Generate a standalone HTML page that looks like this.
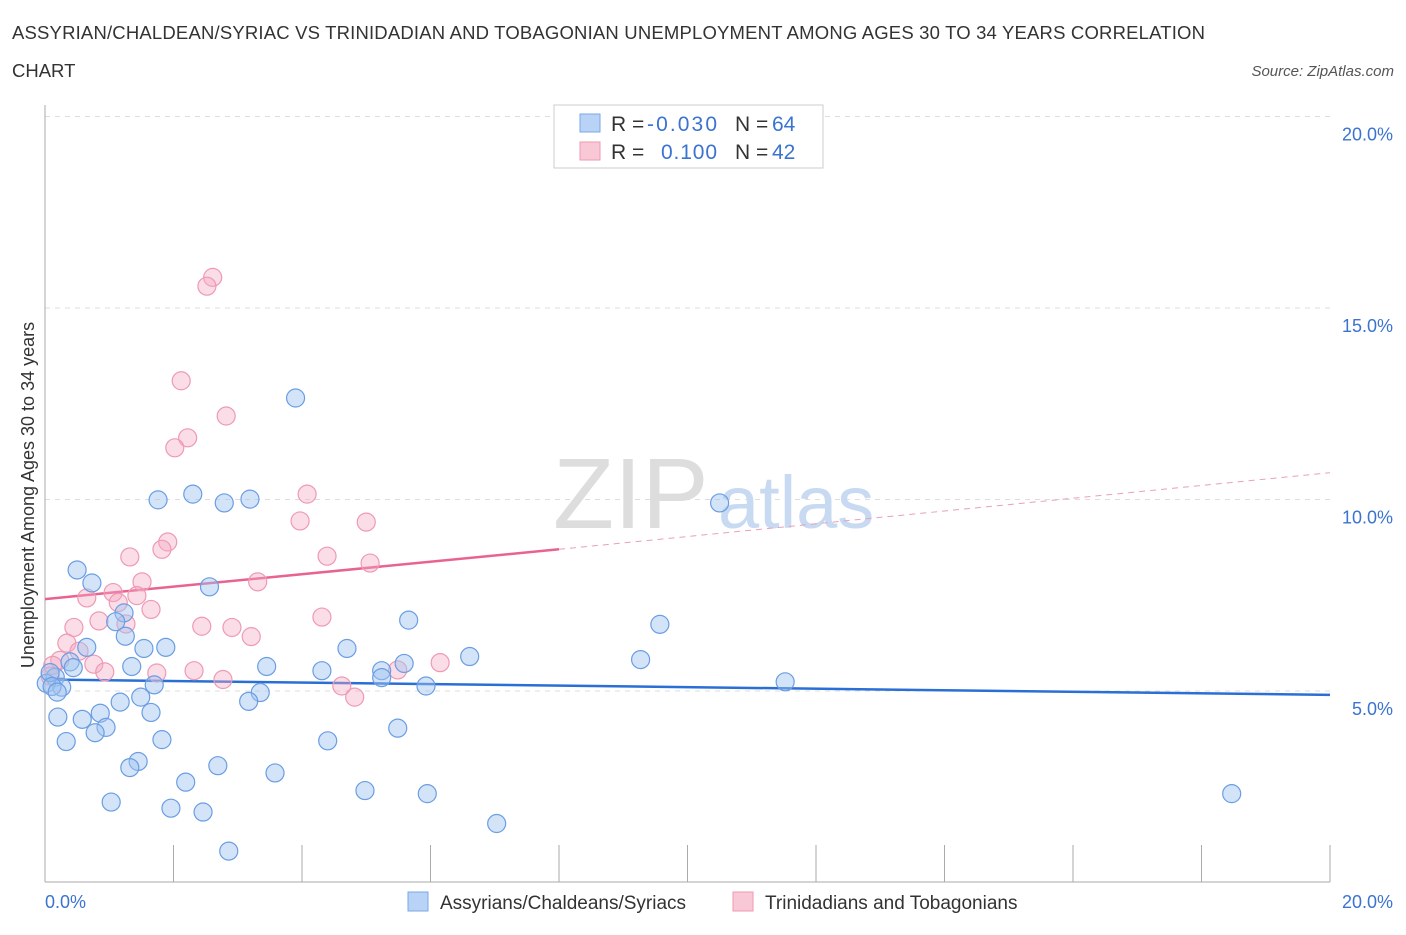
<!DOCTYPE html>
<html><head><meta charset="utf-8"><style>
body{margin:0;background:#fff;font-family:"Liberation Sans",sans-serif}
svg text{font-family:"Liberation Sans",sans-serif}
</style></head><body>
<svg width="1406" height="930" xmlns="http://www.w3.org/2000/svg">
<text x="12" y="39" font-size="18.5" fill="#333" textLength="1193">ASSYRIAN/CHALDEAN/SYRIAC VS TRINIDADIAN AND TOBAGONIAN UNEMPLOYMENT AMONG AGES 30 TO 34 YEARS CORRELATION</text>
<text x="12" y="77" font-size="18.5" fill="#333">CHART</text>
<text x="1394" y="76" font-size="15" fill="#555" font-style="italic" text-anchor="end">Source: ZipAtlas.com</text>
<g id="grid"></g>
<text x="553" y="528" font-size="100" fill="#ddd" font-family="Liberation Serif">ZIP</text>
<text x="718" y="528" font-size="74" fill="#c8daf2">atlas</text>
<g id="lines"></g>
<g id="pts"></g>
<g>
<rect x="554" y="105" width="269" height="63" fill="#fff" stroke="#ccc"/>
<rect x="580" y="114" width="20" height="18" fill="#b8d3f5" stroke="#7aa8e6"/>
<rect x="580" y="142" width="20" height="18" fill="#f9c8d6" stroke="#ee9ab3"/>
<text x="611" y="131" font-size="21" fill="#333">R = </text><text x="647" y="131" font-size="21" fill="#3a73d0" textLength="70">-0.030</text>
<text x="735" y="131" font-size="21" fill="#333">N = </text><text x="772" y="131" font-size="21" fill="#3a73d0">64</text>
<text x="611" y="159" font-size="21" fill="#333">R = </text><text x="661" y="159" font-size="21" fill="#3a73d0" textLength="56">0.100</text>
<text x="735" y="159" font-size="21" fill="#333">N = </text><text x="772" y="159" font-size="21" fill="#3a73d0">42</text>
</g>
<text x="34" y="495" font-size="18" fill="#333" text-anchor="middle" transform="rotate(-90 34 495)">Unemployment Among Ages 30 to 34 years</text>
<text x="45" y="908" font-size="18" fill="#3a73d0">0.0%</text>
<text x="1393" y="908" font-size="18" fill="#3a73d0" text-anchor="end">20.0%</text>
<g>
<rect x="408" y="892" width="20" height="19" fill="#b8d3f5" stroke="#7aa8e6"/>
<text x="440" y="909" font-size="19" fill="#333">Assyrians/Chaldeans/Syriacs</text>
<rect x="733" y="892" width="20" height="19" fill="#f9c8d6" stroke="#ee9ab3"/>
<text x="765" y="909" font-size="19" fill="#333">Trinidadians and Tobagonians</text>
</g>
</svg>
<script>
const yTicks=[5,10,15,20];
const yTickLabels=["5.0%","10.0%","15.0%","20.0%"];
const blueX=[3.9,2.3,1.76,2.79,3.19,10.5,0.5,0.73,2.56,1.23,1.1,5.66,1.25,9.57,0.65,1.54,1.88,4.7,6.61,9.27,0.39,0.44,1.35,3.45,4.31,5.24,5.59,5.24,0.16,0.26,0.02,1.7,5.93,11.52,3.35,1.49,1.17,3.17,1.65,0.2,0.86,0.58,0.95,5.49,0.78,0.33,1.82,4.4,1.45,1.32,2.69,3.58,2.19,1.03,1.96,2.46,4.98,5.95,7.03,2.86,18.47,0.08,0.11,0.19];
const blueY=[12.65,10.14,9.99,9.91,10.01,9.91,8.16,7.82,7.72,7.04,6.81,6.85,6.43,6.74,6.14,6.11,6.14,6.11,5.9,5.82,5.76,5.61,5.64,5.64,5.53,5.53,5.72,5.35,5.36,5.1,5.2,5.16,5.13,5.24,4.96,4.84,4.71,4.73,4.44,4.32,4.42,4.26,4.05,4.03,3.91,3.68,3.73,3.7,3.16,3.0,3.05,2.86,2.62,2.1,1.94,1.84,2.4,2.32,1.54,0.82,2.32,5.48,5.12,4.97];
const pinkX=[2.61,2.52,2.12,2.82,2.22,2.02,4.08,3.97,5.0,1.91,1.82,1.32,4.39,5.06,1.51,3.31,0.65,1.06,1.43,1.14,1.65,4.31,0.84,1.26,2.44,2.91,3.21,0.34,0.45,0.53,0.76,0.93,1.74,2.32,2.77,0.23,0.12,0.08,4.62,4.82,5.49,6.15];
const pinkY=[15.8,15.57,13.1,12.18,11.61,11.35,10.14,9.44,9.41,8.89,8.7,8.5,8.52,8.34,7.85,7.85,7.43,7.57,7.49,7.31,7.13,6.93,6.83,6.75,6.69,6.66,6.42,6.25,6.66,6.04,5.7,5.5,5.47,5.53,5.3,5.8,5.67,5.39,5.13,4.84,5.55,5.74];
const blueFit=[5.3,4.9];
const pinkFit=[7.4,8.7,10.7];
const X=v=>45+v/20*1285, Y=v=>882.5-v*38.3;
const ns="http://www.w3.org/2000/svg";
function mk(t,a,p){const e=document.createElementNS(ns,t);for(const k in a)e.setAttribute(k,a[k]);p.appendChild(e);return e;}
const g=document.getElementById('grid');
yTicks.forEach((t,i)=>{
 const l=mk('line',{x1:45,x2:1330,y1:Y(t),y2:Y(t),stroke:'#ddd','stroke-dasharray':'5,5'},g);
 
 
 const tx=mk('text',{x:1393,y:Y(t)+24,'font-size':18,fill:'#3a73d0','text-anchor':'end'},g);
 tx.textContent=yTickLabels[i];
 
 
});
const ax=mk('line',{x1:45,x2:45,y1:105,y2:882,stroke:'#aaa'},g);


const bx=mk('line',{x1:45,x2:1330,y1:882,y2:882,stroke:'#aaa'},g);


for(let i=0;i<=10;i++){const tk=mk('line',{x1:X(i*2),x2:X(i*2),y1:845,y2:882,stroke:'#aaa'},g);
 
 }
const L=document.getElementById('lines');
const bl=mk('line',{x1:X(0),y1:Y(blueFit[0]),x2:X(20),y2:Y(blueFit[1]),stroke:'#2a6fd6','stroke-width':2.5},L);


const pl=mk('line',{x1:X(0),y1:Y(pinkFit[0]),x2:X(8),y2:Y(pinkFit[1]),stroke:'#e8638f','stroke-width':2.5},L);


const pd=mk('line',{x1:X(8),y1:Y(pinkFit[1]),x2:X(20),y2:Y(pinkFit[2]),stroke:'#e8a0b8','stroke-width':1,'stroke-dasharray':'6,5'},L);


const P=document.getElementById('pts');
pinkX.forEach((x,i)=>{const c=mk('circle',{cx:X(x),cy:Y(pinkY[i]),r:9,fill:'rgba(246,170,195,0.4)',stroke:'#ee9ab3','stroke-width':1.2},P);
 
 });
blueX.forEach((x,i)=>{const c=mk('circle',{cx:X(x),cy:Y(blueY[i]),r:9,fill:'rgba(160,195,240,0.45)',stroke:'#6a9de3','stroke-width':1.2},P);
 
 });
</script>
</body></html>
